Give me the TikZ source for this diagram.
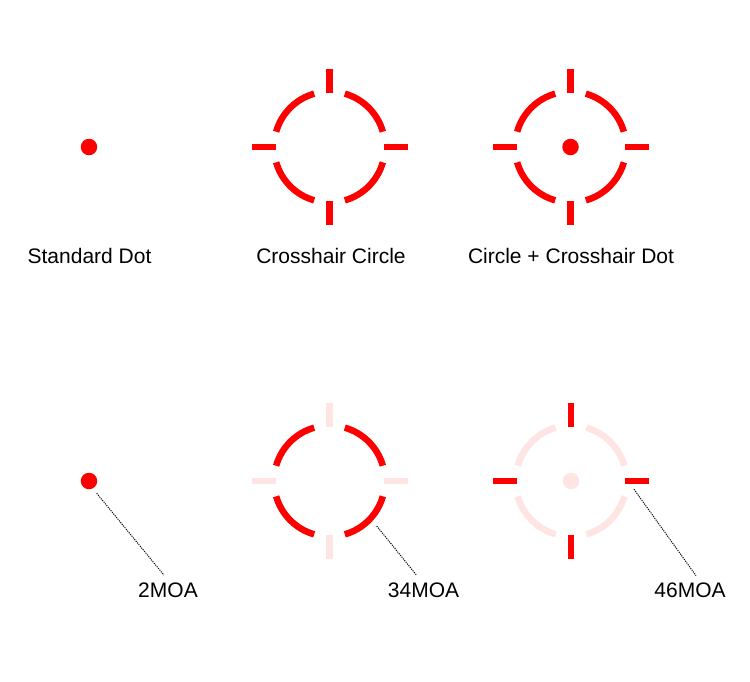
\documentclass[tikz,border=0pt]{standalone}
\usepackage{fontspec}
\setmainfont{Liberation Sans}
\usetikzlibrary{positioning}
\definecolor{sightred}{RGB}{255,0,0}
\definecolor{faintred}{RGB}{255,228,228}

% ring arcs in #1, cross ticks in #2
\tikzset{
  pics/reticle/.style 2 args={code={
    \foreach \a in {0,90,180,270} {
      \draw[line width=6.5pt, #1] (\a+16:55.5pt) arc[start angle=\a+16, end angle=\a+74, radius=55.5pt];
      \draw[line width=6.5pt, #2] (\a:54pt) -- (\a:78pt);
    }
  }}
}

\begin{document}
\begin{tikzpicture}[x=1pt, y=-1pt, every node/.style={font=\fontsize{21}{25}\selectfont}]

\tikzstyle{reddot} = [circle, fill=sightred, minimum size=16.5pt, inner sep=0pt]
\tikzstyle{fadeddot} = [circle, fill=faintred, minimum size=16.5pt, inner sep=0pt]
\tikzstyle{sightname} = [anchor=base, inner sep=2pt]
\tikzstyle{moa} = [anchor=base, inner sep=7pt]
\tikzstyle{leader} = [line width=1pt, dash pattern=on 1.1pt off 1.1pt]

\fill[white] (0,0) rectangle (750,681);
\useasboundingbox (0,0) rectangle (750,681);

% Top row
\node (dotStd) [reddot] at (89,147) {};
\coordinate (crossTop) at (329.5,147);
\pic at (crossTop) {reticle={sightred}{sightred}};
\coordinate (comboTop) at (570.5,147);
\pic at (comboTop) {reticle={sightred}{sightred}};
\node (dotCombo) [reddot] at (comboTop) {};

\node (nameStd) [sightname] at (89.5,263) {Standard Dot};
\node (nameCross) [sightname] at (331,263) {Crosshair Circle};
\node (nameCombo) [sightname] at (571,263) {Circle + Crosshair Dot};

% Bottom row
\node (dotTwo) [reddot] at (89,481) {};
\coordinate (crossLow) at (329.5,481);
\pic at (crossLow) {reticle={sightred}{faintred}};
\coordinate (comboLow) at (571,481);
\pic at (comboLow) {reticle={faintred}{sightred}};
\node (dotFaded) [fadeddot] at (comboLow) {};

\node (moaTwo) [moa] at (168,597) {2MOA};
\node (moaRing) [moa] at (423.5,597) {34MOA};
\node (moaCross) [moa] at (690,597.5) {46MOA};

% Leaders
\coordinate (tipTwo) at (96.7,493.3);
\coordinate (tipRing) at (376.7,526);
\coordinate (tipCross) at (634,489.3);
\draw [leader] (tipTwo) -- ([xshift=-4pt]moaTwo.north);
\draw [leader] (tipRing) -- ([xshift=-7pt]moaRing.north);
\draw [leader] (tipCross) -- ([xshift=6pt]moaCross.north);

\end{tikzpicture}
\end{document}
